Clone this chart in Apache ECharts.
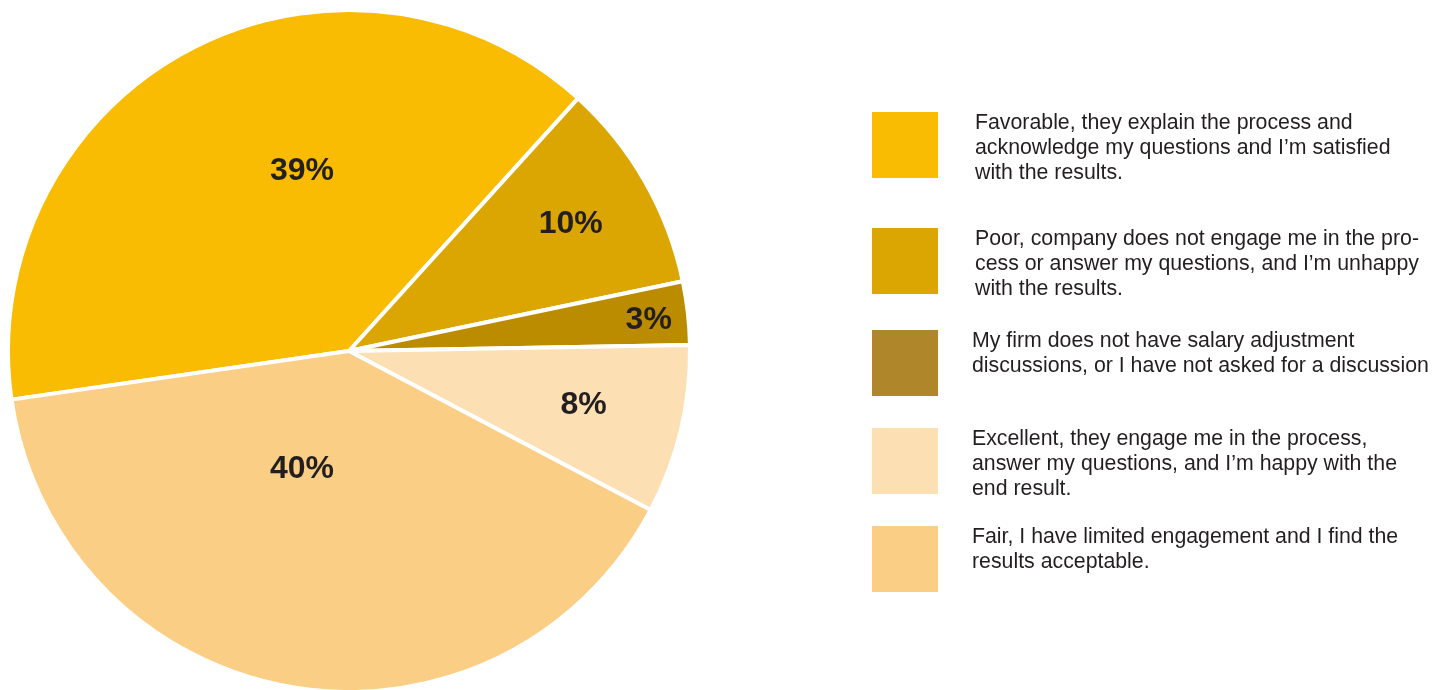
<!DOCTYPE html>
<html>
<head>
<meta charset="utf-8">
<script src="https://cdn.jsdelivr.net/npm/echarts@6/dist/echarts.min.js"></script>
<style>
  html, body { margin: 0; padding: 0; background: #ffffff; }
  #chart { width: 1449px; height: 690px; }
</style>
</head>
<body>
<div id="chart"></div>
<script>
// Survey answers: how salary adjustment discussions are perceived
const categories = [
  'Favorable, they explain the process and\nacknowledge my questions and I\u2019m satisfied\nwith the results.',
  'Poor, company does not engage me in the pro-\ncess or answer my questions, and I\u2019m unhappy\nwith the results.',
  'My firm does not have salary adjustment\ndiscussions, or I have not asked for a discussion',
  'Excellent, they engage me in the process,\nanswer my questions, and I\u2019m happy with the\nend result.',
  'Fair, I have limited engagement and I find the\nresults acceptable.'
];
const shares = [39, 10, 3, 8, 40];

// Styling
const sliceColors = ['#F9BC02', '#DCA602', '#BC8C00', '#FDDFB4', '#FBCE85'];
const legendColors = ['#F9BC02', '#DCA602', '#B0862A', '#FDDFB4', '#FBCE85'];
const legendTops = [112, 228, 330, 428, 526];
const legendTextGap = [37, 37, 34, 34, 34];
const FONT = '"Liberation Sans", Arial, sans-serif';
const TEXT_DROP = 6;   // height of a spacer line that pushes the text block down

// Pie geometry and label anchors (offsets from the centre, in radii)
const CX = 349, CY = 351, R = 341;
const labelAnchors = [
  [-0.138, -0.526],
  [0.650, -0.371],
  [0.879, -0.091],
  [0.688, 0.159],
  [-0.138, 0.347]
];

const chart = echarts.init(document.getElementById('chart'), null, { renderer: 'canvas' });

const pieData = categories.map((name, i) => ({
  name: name,
  value: shares[i],
  itemStyle: { color: sliceColors[i] }
}));

// One legend block per answer so each row sits at its own height
const legends = categories.map((name, i) => {
  const lines = name.split('\n').length;
  return {
    orient: 'vertical',
    left: 872,
    top: legendTops[i] - (75 + TEXT_DROP - 66) / 2,
    icon: 'rect',
    itemWidth: 66,
    itemHeight: 66,
    selectedMode: false,
    padding: 0,
    data: [{ name: name, itemStyle: { color: legendColors[i], borderWidth: 0 } }],
    itemStyle: { borderWidth: 0 },
    formatter: (n) => '{gap| }\n' + n + (lines < 3 ? '\n ' : ''),
    textStyle: {
      fontFamily: FONT,
      fontSize: 21.3,
      lineHeight: 25,
      color: '#231F20',
      padding: [0, 0, 0, legendTextGap[i] - 5],
      rich: {
        gap: { fontSize: 1, lineHeight: TEXT_DROP }
      }
    }
  };
});

chart.setOption({
  animation: false,
  backgroundColor: '#ffffff',
  legend: legends,
  series: [{
    type: 'pie',
    center: [CX, CY],
    radius: [0, R],
    startAngle: 188.2,
    clockwise: true,
    silent: true,
    data: pieData,
    itemStyle: { borderColor: '#ffffff', borderWidth: 4 },
    label: {
      show: true,
      position: 'inside',
      formatter: '{c}%',
      fontFamily: FONT,
      fontWeight: 'bold',
      fontSize: 32,
      color: '#231F20'
    },
    labelLine: { show: false },
    labelLayout: (params) => {
      const a = labelAnchors[params.dataIndex];
      return { x: CX + a[0] * R, y: CY + a[1] * R, align: 'center', verticalAlign: 'middle' };
    }
  }]
});
</script>
</body>
</html>
